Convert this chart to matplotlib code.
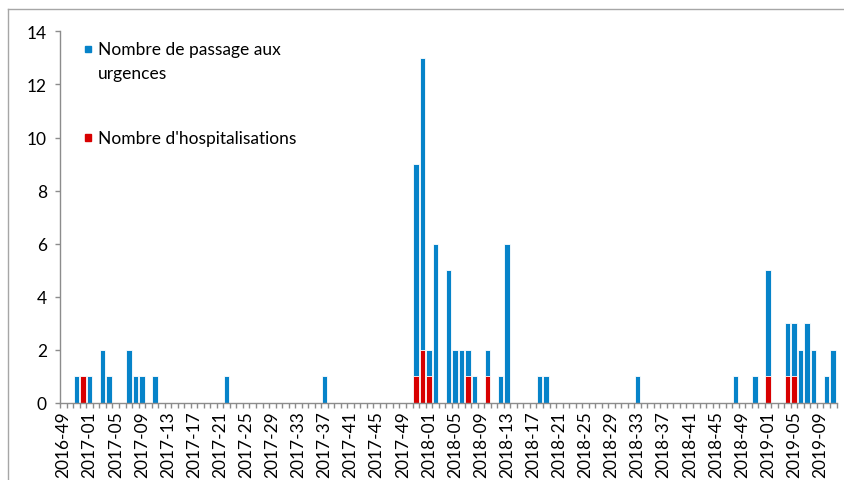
import numpy as np
import matplotlib
matplotlib.use("Agg")
import matplotlib.pyplot as plt
from matplotlib.patches import Rectangle
from matplotlib.lines import Line2D

plt.rcParams['font.family'] = ['Lato', 'DejaVu Sans']

# weeks 2016-49 .. 2019-11
weeks = ['2016-%02d' % w for w in range(49, 53)] + \
        ['2017-%02d' % w for w in range(1, 53)] + \
        ['2018-%02d' % w for w in range(1, 53)] + \
        ['2019-%02d' % w for w in range(1, 12)]

# Nombre de passage aux urgences, per week
passages = [0, 0, 1, 1,                                   # 2016-49..52
            1, 0, 2, 1, 0, 0, 2, 1, 1, 0, 1, 0, 0,        # 2017-01..13
            0, 0, 0, 0, 0, 0, 0, 0, 1, 0, 0, 0, 0,        # 2017-14..26
            0, 0, 0, 0, 0, 0, 0, 0, 0, 0, 1, 0, 0,        # 2017-27..39
            0, 0, 0, 0, 0, 0, 0, 0, 0, 0, 0, 9, 13,       # 2017-40..52
            2, 6, 0, 5, 2, 2, 2, 1, 0, 2, 0, 1, 6,        # 2018-01..13
            0, 0, 0, 0, 1, 1, 0, 0, 0, 0, 0, 0, 0,        # 2018-14..26
            0, 0, 0, 0, 0, 0, 1, 0, 0, 0, 0, 0, 0,        # 2018-27..39
            0, 0, 0, 0, 0, 0, 0, 0, 1, 0, 0, 1, 0,        # 2018-40..52
            5, 0, 0, 3, 3, 2, 3, 2, 0, 1, 2]              # 2019-01..11

# Nombre d'hospitalisations, per week
hospit = [0, 0, 0, 1,
          0, 0, 0, 0, 0, 0, 0, 0, 0, 0, 0, 0, 0,
          0, 0, 0, 0, 0, 0, 0, 0, 0, 0, 0, 0, 0,
          0, 0, 0, 0, 0, 0, 0, 0, 0, 0, 0, 0, 0,
          0, 0, 0, 0, 0, 0, 0, 0, 0, 0, 0, 1, 2,
          1, 0, 0, 0, 0, 0, 1, 0, 0, 1, 0, 0, 0,
          0, 0, 0, 0, 0, 0, 0, 0, 0, 0, 0, 0, 0,
          0, 0, 0, 0, 0, 0, 0, 0, 0, 0, 0, 0, 0,
          0, 0, 0, 0, 0, 0, 0, 0, 0, 0, 0, 0, 0,
          1, 0, 0, 1, 1, 0, 0, 0, 0, 0, 0]

BLUE = '#0683C9'
RED = '#D80000'
GRAY = '#8C8C8C'
W, H = 845, 481
FS = 12.5

fig = plt.figure(figsize=(W / 100, H / 100), dpi=100)
ax = fig.add_axes([60.3 / W, 1 - 404 / H, (836.5 - 60.3) / W, (404 - 32.3) / H])

x = np.arange(len(weeks))
ax.bar(x, passages, width=0.85, color=BLUE, edgecolor='white', linewidth=0.6)
ax.bar(x, hospit, width=0.85, color=RED, edgecolor='white', linewidth=0.6)

ax.set_xlim(-0.5, len(weeks) - 0.5)
ax.set_ylim(0, 14)

for s in ['top', 'right']:
    ax.spines[s].set_visible(False)
for s in ['left', 'bottom']:
    ax.spines[s].set_color(GRAY)
    ax.spines[s].set_linewidth(1)

ax.set_yticks(range(0, 15, 2))
ax.tick_params(axis='y', length=3.6, width=1, color=GRAY, pad=6, labelsize=FS)

ax.set_xticks(x[::4])
ax.set_xticklabels(weeks[::4], rotation=90)
ax.set_xticks(np.arange(-0.5, len(weeks), 1), minor=True)
ax.tick_params(axis='x', which='major', length=0, pad=5, labelsize=FS)
ax.tick_params(axis='x', which='minor', length=3.6, width=1, color=GRAY)

# legend
def fx(px):
    return px / W

def fy(py):
    return 1 - py / H

fig.add_artist(Rectangle((fx(85), fy(53.3)), 6.5 / W, 6.5 / H, color=BLUE,
                         transform=fig.transFigure))
fig.add_artist(Rectangle((fx(85), fy(141.7)), 6.5 / W, 6.5 / H, color=RED,
                         transform=fig.transFigure))
fig.text(fx(98), fy(50), 'Nombre de passage aux', fontsize=FS, va='center')
fig.text(fx(98), fy(74), 'urgences', fontsize=FS, va='center')
fig.text(fx(98), fy(139), "Nombre d'hospitalisations", fontsize=FS, va='center')

# outer frame
fig.add_artist(Line2D([fx(8), 1], [fy(10), fy(10)], color='#A6A6A6', lw=1,
                      transform=fig.transFigure))
fig.add_artist(Line2D([fx(8), fx(8)], [0, fy(10)], color='#A6A6A6', lw=1,
                      transform=fig.transFigure))

fig.savefig('out.png', dpi=100, facecolor='white')
